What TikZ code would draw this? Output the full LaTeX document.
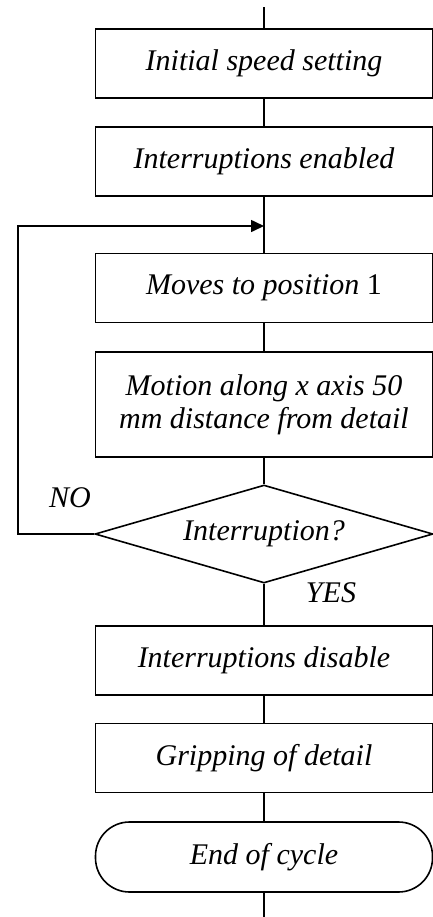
\documentclass[tikz,border=0pt]{standalone}
\usepackage{fontspec}
\setmainfont{Liberation Serif}
\usetikzlibrary{shapes.geometric,arrows.meta}
\begin{document}
\begin{tikzpicture}[x=0.5pt, y=-0.5pt, line width=0.8pt,
    every node/.style={font=\fontsize{15}{16.5}\selectfont\itshape, align=center, inner sep=1pt},
    stepbox/.style={draw, minimum width=168.5pt, minimum height=34.5pt},
    decision/.style={draw, diamond, aspect=3.45, inner sep=0pt, minimum width=169pt, minimum height=49pt},
    terminal/.style={draw, rounded corners=17pt, minimum width=168.5pt, minimum height=35pt}]
              \useasboundingbox (0,0) rectangle (433,917);
              \coordinate (start) at (264,7);
              \node[stepbox] (speed) at (264,63.5) {Initial speed setting};
              \node[stepbox] (enab) at (264,161.5) {Interruptions enabled};
              \coordinate (join) at (264,226);
              \node[stepbox] (pos) at (264,288) {Moves to position \upshape 1};
              \node[stepbox, minimum height=52.5pt] (motion) at (264,404.5) {Motion along x axis 50\\mm distance from detail};
              \node[decision] (intr) at (264,534) {Interruption?};
              \node (no) at (70,498) {NO};
              \node (yes) at (331,593) {YES};
              \node[stepbox] (dis) at (264,660.5) {Interruptions disable};
              \node[stepbox] (grip) at (264,758) {Gripping of detail};
              \node[terminal] (end) at (264,857) {End of cycle};
              \coordinate (stop) at (264,917);
              \coordinate (corner) at (18,226);
              \draw (start) -- (speed);
              \draw (speed) -- (enab);
              \draw (enab) -- (pos);
              \draw (pos) -- (motion);
              \draw (motion) -- (intr);
              \draw (intr) -- (dis);
              \draw (dis) -- (grip);
              \draw (grip) -- (end);
              \draw (end) -- (stop);
              \draw[-{Triangle[length=6.5pt,width=6pt]}] (intr.west) -| (corner) -- (join);
          \end{tikzpicture}
\end{document}
